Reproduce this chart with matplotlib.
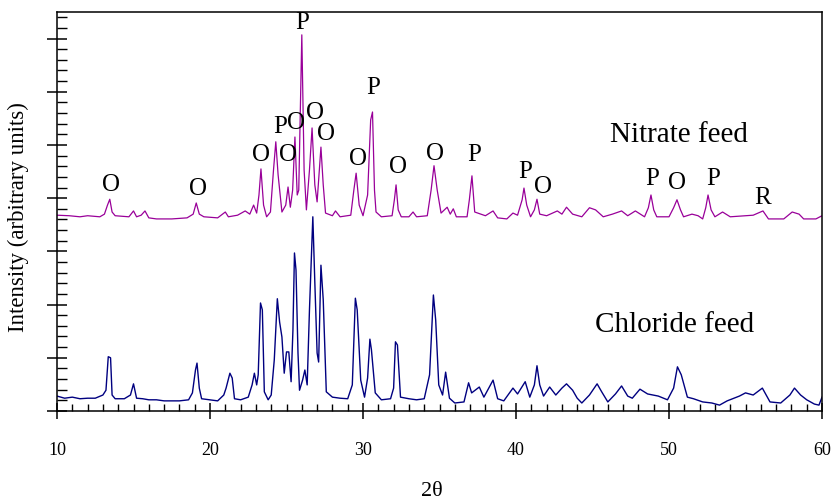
import matplotlib
matplotlib.use('Agg')
import matplotlib.pyplot as plt
from matplotlib.ticker import MultipleLocator, NullFormatter

plt.rcParams['font.family'] = ['Liberation Serif', 'DejaVu Serif']

# nitrate feed trace (offset upward)
nitrate_x = [10.0, 10.8, 11.5, 12.0, 12.8, 13.1, 13.3, 13.45, 13.6, 13.8, 14.7, 15.0, 15.2, 15.5, 15.75,
             16.0, 16.5, 17.5, 18.5, 18.9, 19.1, 19.3, 19.6, 20.5, 21.0, 21.2, 21.8, 22.3, 22.6, 22.85,
             23.05, 23.2, 23.33, 23.5, 23.7, 23.95, 24.15, 24.3, 24.45, 24.7, 24.95, 25.1, 25.25, 25.4,
             25.55, 25.7, 25.8, 26.0, 26.15, 26.3, 26.5, 26.67, 26.85, 27.0, 27.25, 27.4, 27.55, 28.0,
             28.2, 28.5, 29.2, 29.4, 29.55, 29.75, 30.0, 30.3, 30.5, 30.62, 30.75, 30.85, 31.2, 31.9,
             32.05, 32.16, 32.3, 32.5, 33.0, 33.27, 33.5, 34.2, 34.45, 34.64, 34.85, 35.1, 35.5, 35.7,
             35.9, 36.1, 36.8, 36.95, 37.12, 37.3, 37.7, 38.0, 38.5, 38.8, 39.4, 39.8, 40.1, 40.4, 40.52,
             40.7, 40.95, 41.2, 41.37, 41.55, 42.0, 42.7, 43.0, 43.3, 43.7, 44.3, 44.8, 45.2, 45.7, 46.3,
             46.9, 47.3, 47.8, 48.4, 48.65, 48.82, 49.0, 49.2, 50.0, 50.3, 50.52, 50.75, 50.95, 51.5,
             51.9, 52.2, 52.4, 52.55, 52.75, 53.0, 53.5, 54.0, 55.0, 55.5, 56.14, 56.5, 57.5, 58.05,
             58.5, 58.8, 59.6, 60.0]
nitrate_y = [3.68, 3.67, 3.65, 3.67, 3.65, 3.70, 3.87, 3.98, 3.74, 3.67, 3.65, 3.76, 3.65, 3.68, 3.76,
             3.63, 3.61, 3.61, 3.63, 3.70, 3.91, 3.70, 3.65, 3.63, 3.74, 3.65, 3.68, 3.76, 3.70, 3.87,
             3.72, 4.06, 4.55, 3.87, 3.65, 3.74, 4.53, 5.06, 4.44, 3.74, 3.87, 4.21, 3.83, 4.15,
             5.15, 4.06, 4.15, 7.07, 4.53, 3.78, 4.53, 5.32, 4.25, 3.93, 4.96, 4.25, 3.72, 3.67,
             3.76, 3.65, 3.68, 4.15, 4.47, 3.87, 3.67, 4.06, 5.47, 5.62, 4.15, 3.74, 3.65, 3.67,
             3.97, 4.25, 3.78, 3.65, 3.65, 3.74, 3.65, 3.67, 4.15, 4.61, 4.15, 3.72, 3.83, 3.70,
             3.80, 3.65, 3.65, 3.97, 4.42, 3.74, 3.70, 3.67, 3.76, 3.63, 3.61, 3.72, 3.68, 3.97, 4.19,
             3.87, 3.65, 3.78, 3.98, 3.70, 3.67, 3.76, 3.70, 3.83, 3.70, 3.65, 3.82, 3.78, 3.65, 3.70,
             3.76, 3.67, 3.76, 3.65, 3.82, 4.06, 3.78, 3.65, 3.65, 3.82, 3.97, 3.78, 3.65, 3.70,
             3.67, 3.61, 3.82, 4.06, 3.78, 3.65, 3.74, 3.65, 3.67, 3.68, 3.76, 3.61, 3.61, 3.74,
             3.70, 3.61, 3.61, 3.67]

# chloride feed trace
chloride_x = [10.0, 10.5, 11.0, 11.5, 12.0, 12.5, 13.0, 13.2, 13.35, 13.5, 13.6, 13.8, 14.4, 14.8, 15.0,
              15.2, 15.6, 16.0, 16.5, 17.0, 17.5, 18.0, 18.6, 18.85, 19.05, 19.15, 19.3, 19.45, 20.0,
              20.5, 20.9, 21.05, 21.3, 21.45, 21.6, 22.0, 22.5, 22.75, 22.9, 23.05, 23.15, 23.3, 23.42,
              23.55, 23.8, 24.0, 24.2, 24.4, 24.55, 24.7, 24.85, 25.0, 25.15, 25.3, 25.42, 25.52, 25.62,
              25.75, 25.85, 26.05, 26.2, 26.35, 26.5, 26.72, 26.85, 27.0, 27.1, 27.25, 27.4, 27.6, 28.0,
              28.5, 29.0, 29.3, 29.5, 29.62, 29.85, 30.1, 30.3, 30.45, 30.55, 30.8, 31.2, 31.8, 32.0,
              32.12, 32.25, 32.45, 33.0, 33.5, 34.0, 34.35, 34.6, 34.75, 34.95, 35.2, 35.4, 35.65, 36.0,
              36.6, 36.9, 37.1, 37.6, 37.9, 38.5, 38.8, 39.2, 39.8, 40.1, 40.6, 40.9, 41.2, 41.37, 41.55,
              41.8, 42.2, 42.6, 43.0, 43.3, 43.7, 44.0, 44.3, 44.8, 45.3, 45.6, 46.0, 46.5, 46.9, 47.3,
              47.6, 48.1, 48.6, 49.3, 49.9, 50.3, 50.55, 50.8, 51.2, 51.6, 52.2, 52.8, 53.3, 53.8, 54.6,
              55.0, 55.5, 56.1, 56.6, 57.3, 57.9, 58.2, 58.6, 59.0, 59.5, 59.8, 60.0]
chloride_y = [0.28, 0.24, 0.26, 0.23, 0.24, 0.24, 0.30, 0.39, 1.02, 1.00, 0.30, 0.23, 0.23, 0.30, 0.51,
              0.24, 0.23, 0.21, 0.21, 0.19, 0.19, 0.19, 0.21, 0.34, 0.77, 0.90, 0.43, 0.23, 0.21,
              0.19, 0.30, 0.43, 0.71, 0.62, 0.23, 0.21, 0.26, 0.49, 0.71, 0.49, 0.68, 2.03, 1.90,
              0.36, 0.21, 0.30, 0.96, 2.11, 1.67, 1.39, 0.71, 1.11, 1.11, 0.55, 1.52, 2.97, 2.65,
              1.09, 0.39, 0.58, 0.77, 0.49, 1.90, 3.65, 2.42, 1.09, 0.92, 2.74, 2.09, 0.36, 0.26,
              0.24, 0.23, 0.49, 2.12, 1.90, 0.58, 0.26, 0.62, 1.35, 1.15, 0.34, 0.21, 0.23, 0.43,
              1.30, 1.24, 0.26, 0.23, 0.21, 0.23, 0.68, 2.18, 1.71, 0.49, 0.30, 0.73, 0.24, 0.15,
              0.17, 0.53, 0.34, 0.45, 0.26, 0.58, 0.23, 0.19, 0.43, 0.32, 0.55, 0.26, 0.49, 0.85, 0.49,
              0.28, 0.45, 0.30, 0.43, 0.51, 0.39, 0.24, 0.15, 0.30, 0.51, 0.36, 0.17, 0.32, 0.47, 0.28,
              0.24, 0.41, 0.32, 0.28, 0.21, 0.43, 0.83, 0.68, 0.26, 0.23, 0.17, 0.15, 0.11, 0.19, 0.28,
              0.34, 0.30, 0.43, 0.17, 0.15, 0.30, 0.43, 0.30, 0.21, 0.13, 0.11, 0.26]

# phase labels over the nitrate peaks
peak_labels = ['O', 'O', 'O', 'P', 'O', 'O', 'P', 'O', 'O', 'O', 'P', 'O', 'O', 'P', 'P', 'O',
               'P', 'O', 'P', 'R']
peak_label_x = [13.53, 19.22, 23.33, 24.58, 25.10, 25.62, 26.01, 26.86, 27.58, 29.67, 30.65, 32.29,
                34.71, 37.25, 40.59, 41.76, 48.89, 50.52, 52.88, 56.14]
peak_label_y = [4.25, 4.17, 4.81, 5.34, 4.81, 5.41, 7.29, 5.60, 5.21, 4.74, 6.07, 4.59,
                4.83, 4.81, 4.49, 4.21, 4.36, 4.29, 4.36, 4.00]

fig = plt.figure(figsize=(8.31, 4.99), dpi=100)
ax = fig.add_axes([0.0686, 0.1764, 0.9206, 0.7996])

ax.plot(nitrate_x, nitrate_y, color='#990099', lw=0.9)
ax.plot(chloride_x, chloride_y, color='#000080', lw=1.0)

for lab, x, y in zip(peak_labels, peak_label_x, peak_label_y):
    ax.text(x, y, lab, fontsize=18, ha='center', va='center')

ax.text(50.65, 5.19, 'Nitrate feed', fontsize=21, ha='center', va='center')
ax.text(50.39, 1.62, 'Chloride feed', fontsize=21, ha='center', va='center')

ax.set_xlim(10, 60)
ax.set_ylim(0, 7.5)
ax.xaxis.set_major_locator(MultipleLocator(10))
ax.xaxis.set_minor_locator(MultipleLocator(1))
ax.yaxis.set_major_locator(MultipleLocator(1))
ax.yaxis.set_minor_locator(MultipleLocator(0.2))
ax.yaxis.set_major_formatter(NullFormatter())

ax.tick_params(axis='x', which='major', direction='inout', length=12, width=1.1, pad=16, labelsize=13)
ax.tick_params(axis='x', which='minor', direction='in', length=5, width=1.0)
ax.tick_params(axis='y', which='major', direction='inout', length=14, width=1.1)
ax.tick_params(axis='y', which='minor', direction='in', length=7, width=1.0)
for s in ax.spines.values():
    s.set_linewidth(1.1)

ax.set_xlabel('2θ', fontsize=16)
ax.xaxis.set_label_coords(0.49, -0.177)
ax.set_ylabel('Intensity (arbitrary units)', fontsize=16.5)
ax.yaxis.set_label_coords(-0.037, 0.485)

fig.savefig('out.png', dpi=100)
